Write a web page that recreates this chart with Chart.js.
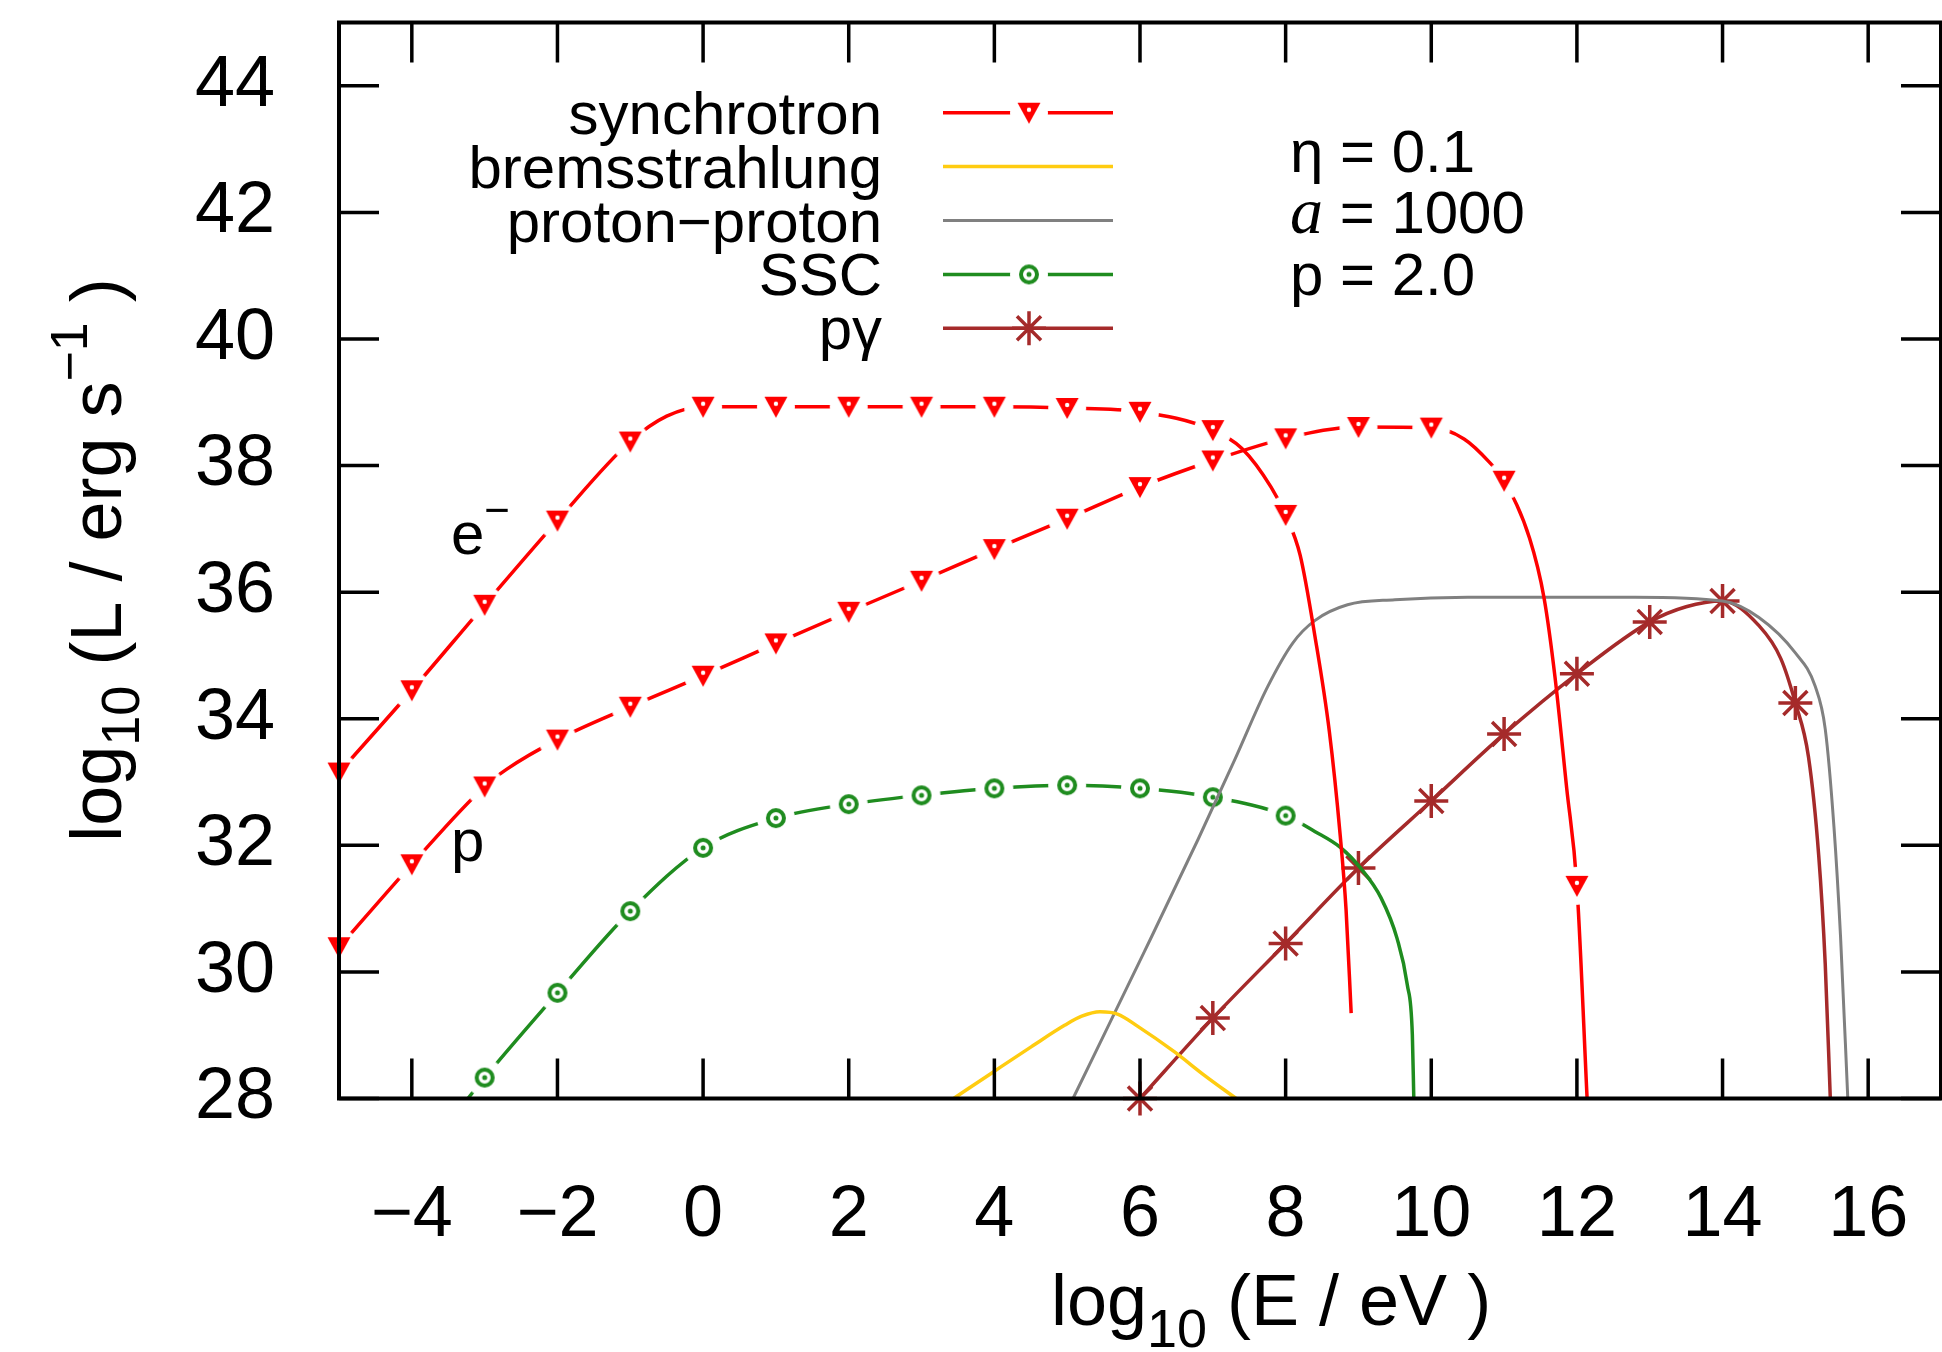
<!DOCTYPE html>
<html>
<head>
<meta charset="utf-8">
<script src="https://cdn.jsdelivr.net/npm/chart.js@4.4.1/dist/chart.umd.min.js"></script>
<style>
  html, body { margin: 0; padding: 0; background: #fff; }
  #sed { display: block; }
</style>
</head>
<body>
<canvas id="sed" width="1942" height="1352"></canvas>
<script>
// log10(E / eV) and log10(L / erg s^-1)
const elecSynX = [-5, -4, -3, -2, -1, -0.5, 0, 1, 2, 3, 4, 5, 6, 7, 7.4, 7.8, 8, 8.2, 8.4, 8.6, 8.75, 8.83, 8.9];
const elecSynY = [33.15, 34.45, 35.8, 37.13, 38.38, 38.78, 38.93, 38.93, 38.93, 38.93, 38.93, 38.91, 38.85, 38.56, 38.27, 37.66, 37.22, 36.58, 35.32, 33.8, 32.15, 30.98, 29.35];

const protSynX = [-5, -4, -3, -2.7, -2, -1, 0, 1, 2, 3, 4, 5, 6, 7, 8, 9, 10, 10.45, 10.8, 11, 11.35, 11.55, 11.7, 11.86, 12, 12.14];
const protSynY = [30.39, 31.7, 32.93, 33.2, 33.67, 34.19, 34.68, 35.19, 35.69, 36.18, 36.68, 37.16, 37.66, 38.08, 38.43, 38.61, 38.6, 38.42, 38.05, 37.76, 36.85, 35.9, 34.65, 32.9, 31.36, 28.0];

const bremX = [3.44, 3.96, 4.51, 4.97, 5.2, 5.45, 5.7, 5.97, 6.47, 6.88, 7.32];
const bremY = [28.0, 28.4, 28.82, 29.16, 29.3, 29.37, 29.33, 29.14, 28.74, 28.37, 28.0];

const ppX = [5.08, 6.06, 6.8, 7.3, 7.75, 8.1, 8.4, 8.85, 9.5, 10.5, 12.8, 14.0, 14.5, 15.0, 15.27, 15.41, 15.53, 15.62, 15.72];
const ppY = [28.0, 30.32, 32.1, 33.35, 34.5, 35.2, 35.55, 35.8, 35.88, 35.92, 35.92, 35.86, 35.6, 35.04, 34.52, 33.84, 32.29, 30.57, 28.0];

const sscX = [-3.23, -3, -2, -1, 0, 1, 2, 3, 4, 5, 6, 7, 8, 8.4, 8.76, 9.03, 9.31, 9.53, 9.67, 9.74, 9.76];
const sscY = [28.0, 28.33, 29.67, 30.96, 31.96, 32.43, 32.65, 32.79, 32.9, 32.95, 32.9, 32.76, 32.47, 32.22, 31.96, 31.64, 31.17, 30.53, 29.8, 29.01, 28.0];

const pgX = [6, 7, 8, 9, 10, 11, 12, 13, 13.5, 14, 14.5, 14.8, 15, 15.18, 15.32, 15.41, 15.48];
const pgY = [28.0, 29.27, 30.45, 31.64, 32.7, 33.76, 34.71, 35.53, 35.77, 35.86, 35.47, 34.95, 34.25, 33.4, 31.85, 30.13, 28.0];

// last x that carries a marker (markers sit on whole decades)
const elecLastMark = 8, protLastMark = 12, sscLastMark = 8, pgLastMark = 15;

const xTicks = [-4, -2, 0, 2, 4, 6, 8, 10, 12, 14, 16];
const yTicks = [28, 30, 32, 34, 36, 38, 40, 42, 44];

const legendLabels = ['synchrotron', 'bremsstrahlung', 'proton\u2212proton', 'SSC', 'p\u03b3'];

const RED = '#ff0000', GOLD = '#ffcc10', GREY = '#808080', GREEN = '#1f8c1f', BROWN = '#a52a2a';
const SANS = '"Liberation Sans", Arial, sans-serif';

const pts = (xs, ys) => xs.map((x, i) => ({ x: x, y: ys[i] }));
const fmt = v => v < 0 ? '\u2212' + (-v) : String(v);

// marker sprites; the white disc leaves the gap gnuplot puts around points
function makeMarker(kind, color) {
    const c = document.createElement('canvas');
    c.width = c.height = 44;
    const g = c.getContext('2d');
    g.fillStyle = '#fff';
    g.beginPath(); g.arc(22, 22, 19, 0, Math.PI * 2); g.fill();
    if (kind === 'tri') {
        g.fillStyle = color;
        g.beginPath(); g.moveTo(10.5, 12); g.lineTo(33.5, 12); g.lineTo(22, 33); g.closePath(); g.fill();
        g.fillStyle = '#fff';
        g.beginPath(); g.arc(22, 19, 2.2, 0, Math.PI * 2); g.fill();
    } else {
        g.strokeStyle = color; g.lineWidth = 4;
        g.beginPath(); g.arc(22, 22, 8, 0, Math.PI * 2); g.stroke();
        g.fillStyle = color;
        g.beginPath(); g.arc(22, 22, 2.5, 0, Math.PI * 2); g.fill();
    }
    return c;
}
const triMark = makeMarker('tri', RED);
const ringMark = makeMarker('ring', GREEN);

function markRadius(last, r) {
    return ctx => {
        const p = ctx.raw;
        if (!p) return 0;
        return Number.isInteger(p.x) && p.x <= last ? r : 0;
    };
}

function series(label, xs, ys, color, extra) {
    return Object.assign({
        label: label,
        data: pts(xs, ys),
        borderColor: color,
        backgroundColor: color,
        borderWidth: 3.5,
        borderJoinStyle: 'round',
        cubicInterpolationMode: 'monotone',
        pointRadius: 0,
        clip: false
    }, extra);
}

const datasets = [
    series('synchrotron', elecSynX, elecSynY, RED, { pointStyle: triMark, pointRadius: markRadius(elecLastMark, 10) }),
    series('synchrotron', protSynX, protSynY, RED, { pointStyle: triMark, pointRadius: markRadius(protLastMark, 10) }),
    series('bremsstrahlung', bremX, bremY, GOLD),
    series('proton\u2212proton', ppX, ppY, GREY, { borderWidth: 3 }),
    series('SSC', sscX, sscY, GREEN, { pointStyle: ringMark, pointRadius: markRadius(sscLastMark, 10) }),
    series('p\u03b3', pgX, pgY, BROWN, {
        pointStyle: 'star', pointRadius: markRadius(pgLastMark, 17),
        pointBorderColor: BROWN, pointBorderWidth: 3.5
    })
];

function star(ctx, x, y, r) {
    ctx.beginPath();
    for (let k = 0; k < 4; k++) {
        const a = k * Math.PI / 4;
        ctx.moveTo(x - Math.cos(a) * r, y - Math.sin(a) * r);
        ctx.lineTo(x + Math.cos(a) * r, y + Math.sin(a) * r);
    }
    ctx.stroke();
}

// pieces: [text, size, baseline shift, font style, font family]
function richText(ctx, pieces, x, y, align) {
    const fontOf = p => (p[3] || '') + p[1] + 'px ' + (p[4] || SANS);
    let w = 0;
    pieces.forEach(p => { ctx.font = fontOf(p); w += ctx.measureText(p[0]).width; });
    let cx = align === 'center' ? x - w / 2 : x;
    ctx.textAlign = 'left';
    ctx.textBaseline = 'alphabetic';
    pieces.forEach(p => {
        ctx.font = fontOf(p);
        ctx.fillText(p[0], cx, y + (p[2] || 0));
        cx += ctx.measureText(p[0]).width;
    });
}

const frame = {
    id: 'frame',
    afterDatasetsDraw(chart) {
        const { ctx, chartArea: a, scales } = chart;
        ctx.save();
        ctx.strokeStyle = '#000';
        ctx.lineWidth = 3.5;
        ctx.beginPath();
        xTicks.forEach(v => {
            const px = scales.x.getPixelForValue(v);
            ctx.moveTo(px, a.bottom); ctx.lineTo(px, a.bottom - 40);
            ctx.moveTo(px, a.top); ctx.lineTo(px, a.top + 40);
        });
        yTicks.forEach(v => {
            const py = scales.y.getPixelForValue(v);
            ctx.moveTo(a.left, py); ctx.lineTo(a.left + 40, py);
            ctx.moveTo(a.right, py); ctx.lineTo(a.right - 40, py);
        });
        ctx.stroke();
        ctx.lineWidth = 4;
        ctx.strokeRect(a.left, a.top, a.right - a.left, a.bottom - a.top);
        ctx.restore();
    }
};

const annotations = {
    id: 'annotations',
    afterDraw(chart) {
        const ctx = chart.ctx;
        ctx.save();
        ctx.fillStyle = '#000';

        // key, top left inside the frame
        const styles = [
            { color: RED, mark: triMark },
            { color: GOLD },
            { color: GREY, width: 3 },
            { color: GREEN, mark: ringMark },
            { color: BROWN, star: true }
        ];
        legendLabels.forEach((label, i) => {
            const y = 112.7 + i * 53.9;
            ctx.font = '60px ' + SANS;
            ctx.textAlign = 'right';
            ctx.textBaseline = 'alphabetic';
            ctx.fillStyle = '#000';
            ctx.fillText(label, 882, y + 21);
            const s = styles[i];
            ctx.strokeStyle = s.color;
            ctx.lineWidth = s.width || 3.5;
            ctx.beginPath(); ctx.moveTo(943, y); ctx.lineTo(1113, y); ctx.stroke();
            if (s.mark) ctx.drawImage(s.mark, 1029 - 22, y - 22);
            if (s.star) { ctx.lineWidth = 3.5; star(ctx, 1029, y, 17); }
        });

        // model parameters
        ctx.fillStyle = '#000';
        richText(ctx, [['\u03b7 = 0.1', 60]], 1290, 172);
        richText(ctx, [['a', 66, 0, 'italic ', '"Liberation Serif", serif'], [' = 1000', 60]], 1290, 233);
        richText(ctx, [['p = 2.0', 60]], 1290, 295);

        // curve labels
        richText(ctx, [['e', 60], ['\u2212', 44, -29]], 451, 554);
        richText(ctx, [['p', 60]], 451, 861);

        // axis titles
        richText(ctx, [['log', 72], ['10', 54, 22], [' (E / eV )', 72]], 1271, 1325, 'center');
        ctx.translate(121, 560);
        ctx.rotate(-Math.PI / 2);
        richText(ctx, [['log', 72], ['10', 54, 18], [' (L / erg s', 72], ['\u22121', 52, -34], [' )', 72]], 0, 0, 'center');
        ctx.restore();
    }
};

// pin the plot box to the reference frame
function noPad(s) {
    s.paddingTop = 0; s.paddingBottom = 0; s.paddingLeft = 0; s.paddingRight = 0;
}

const tickFont = { family: 'Liberation Sans', size: 72 };

new Chart(document.getElementById('sed'), {
    type: 'line',
    data: { datasets: datasets },
    options: {
        responsive: false,
        devicePixelRatio: 1,
        animation: false,
        events: [],
        layout: { autoPadding: false, padding: { top: 22.5, right: 1, bottom: 0, left: 0 } },
        plugins: {
            legend: { display: false },
            tooltip: { enabled: false }
        },
        scales: {
            x: {
                type: 'linear', min: -5, max: 17,
                afterBuildTicks: s => { s.ticks = xTicks.map(v => ({ value: v })); },
                afterFit: s => { s.height = 253.5; noPad(s); },
                grid: { display: false, drawTicks: false },
                border: { display: false },
                ticks: { font: tickFont, color: '#000', padding: 74, maxRotation: 0, callback: fmt }
            },
            y: {
                type: 'linear', min: 28, max: 45,
                afterBuildTicks: s => { s.ticks = yTicks.map(v => ({ value: v })); },
                afterFit: s => { s.width = 339; noPad(s); },
                grid: { display: false, drawTicks: false },
                border: { display: false },
                ticks: { font: tickFont, color: '#000', padding: 64, callback: fmt }
            }
        }
    },
    plugins: [frame, annotations]
});
</script>
</body>
</html>
